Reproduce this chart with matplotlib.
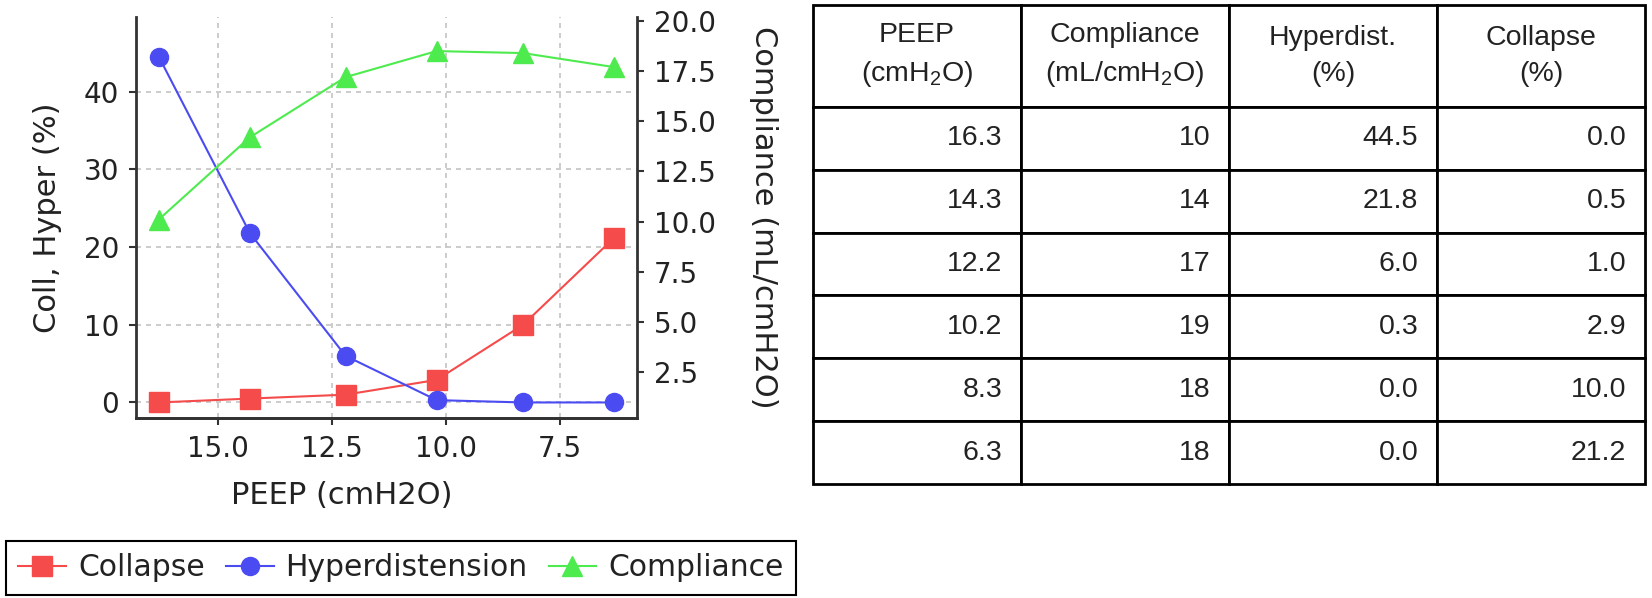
import numpy as np
import matplotlib
matplotlib.use("Agg")
import matplotlib.pyplot as plt

peep = [16.3, 14.3, 12.2, 10.2, 8.3, 6.3]
collapse = [0.0, 0.5, 1.0, 2.9, 10.0, 21.2]
hyperdistension = [44.5, 21.8, 6.0, 0.3, 0.0, 0.0]
compliance = [10.1, 14.2, 17.2, 18.5, 18.4, 17.7]
compliance_table = [10, 14, 17, 19, 18, 18]

col_labels = ['PEEP\n(cmH$_2$O)', 'Compliance\n(mL/cmH$_2$O)',
              'Hyperdist.\n(%)', 'Collapse\n(%)']

RED = '#f54b4b'
BLUE = '#4b4bf2'
GREEN = '#4deb4d'
DARK = '#222222'

plt.rcParams['font.family'] = 'DejaVu Sans'
plt.rcParams['mathtext.fontset'] = 'custom'
plt.rcParams['mathtext.rm'] = 'Liberation Sans'
plt.rcParams['mathtext.it'] = 'Liberation Sans:italic'
plt.rcParams['mathtext.bf'] = 'Liberation Sans:bold'

W, H = 1652, 598
fig = plt.figure(figsize=(W / 100, H / 100), dpi=100)

# --- left: line chart with twin y axis ---
ax = fig.add_axes([136 / W, 1 - 418 / H, (637 - 136) / W, (418 - 17) / H])
ax2 = ax.twinx()

l1, = ax.plot(peep, collapse, color=RED, marker='s', ms=14, lw=1.5, label='Collapse')
l2, = ax.plot(peep, hyperdistension, color=BLUE, marker='o', ms=13, lw=1.5,
              label='Hyperdistension')
l3, = ax2.plot(peep, compliance, color=GREEN, marker='^', ms=14, lw=1.5,
               label='Compliance')

ax.invert_xaxis()
ax.set_ylim(-2.0, 49.6)
ax2.set_ylim(0.2, 20.2)
ax.set_xticks([15.0, 12.5, 10.0, 7.5])
ax.set_xticklabels(['15.0', '12.5', '10.0', '7.5'])
ax.set_yticks([0, 10, 20, 30, 40])
r_ticks = np.arange(2.5, 20.01, 2.5)
ax2.set_yticks(r_ticks)
ax2.set_yticklabels([f'{t:.1f}' for t in r_ticks])

ax.grid(True, linestyle=(0, (3, 3)), color='#c4c4c4', lw=1.2)

for a in (ax, ax2):
    a.spines['top'].set_visible(False)
    for s in a.spines.values():
        s.set_color('#333333')
        s.set_linewidth(2)
    a.tick_params(labelsize=20, colors='#333333', labelcolor=DARK,
                  length=5, width=1.5, pad=7)
ax.spines['right'].set_visible(False)
ax2.spines['left'].set_visible(False)

ax.set_xlabel('PEEP (cmH2O)', fontsize=22, color=DARK)
ax.set_ylabel('Coll, Hyper (%)', fontsize=22, color=DARK)
ax2.set_ylabel('Compliance (mL/cmH2O)', fontsize=22, color=DARK, rotation=270)
ax.xaxis.set_label_coords((342 - 136) / 501, (418 - 481) / 401)
ax.yaxis.set_label_coords((62 - 136) / 501, 0.5)
ax2.yaxis.set_label_coords((778 - 136) / 501, 0.5)

leg = fig.legend([l1, l2, l3], [l.get_label() for l in (l1, l2, l3)],
                 loc='center', bbox_to_anchor=(401 / W, 1 - 568 / H), ncol=3,
                 fontsize=21.5, frameon=True, fancybox=False, edgecolor='black',
                 framealpha=1, handlelength=1.6, handletextpad=0.4,
                 columnspacing=0.7, borderaxespad=0, borderpad=0.42)
leg.get_frame().set_linewidth(1.5)
for t in leg.get_texts():
    t.set_color(DARK)

# --- right: table ---
tax = fig.add_axes([813 / W, 1 - 484 / H, (1645 - 813) / W, (484 - 5) / H])
tax.axis('off')
cell_text = [[f'{p:.1f}', f'{c:d}', f'{h:.1f}', f'{k:.1f}']
             for p, c, h, k in zip(peep, compliance_table, hyperdistension, collapse)]
tbl = tax.table(cellText=cell_text, colLabels=col_labels, cellLoc='right',
                colLoc='center', bbox=[0, 0, 1, 1])
tbl.auto_set_font_size(False)
tbl.set_fontsize(20.5)
for (r, c), cell in tbl.get_celld().items():
    cell.set_linewidth(2)
    cell.set_edgecolor('black')
    cell.set_height(102 if r == 0 else 63)
    cell.PAD = 0.09
    txt = cell.get_text()
    txt.set_fontfamily('Liberation Sans')
    txt.set_color(DARK)
    if r == 0:
        txt.set_linespacing(1.5)

fig.savefig('out.png', dpi=100)
